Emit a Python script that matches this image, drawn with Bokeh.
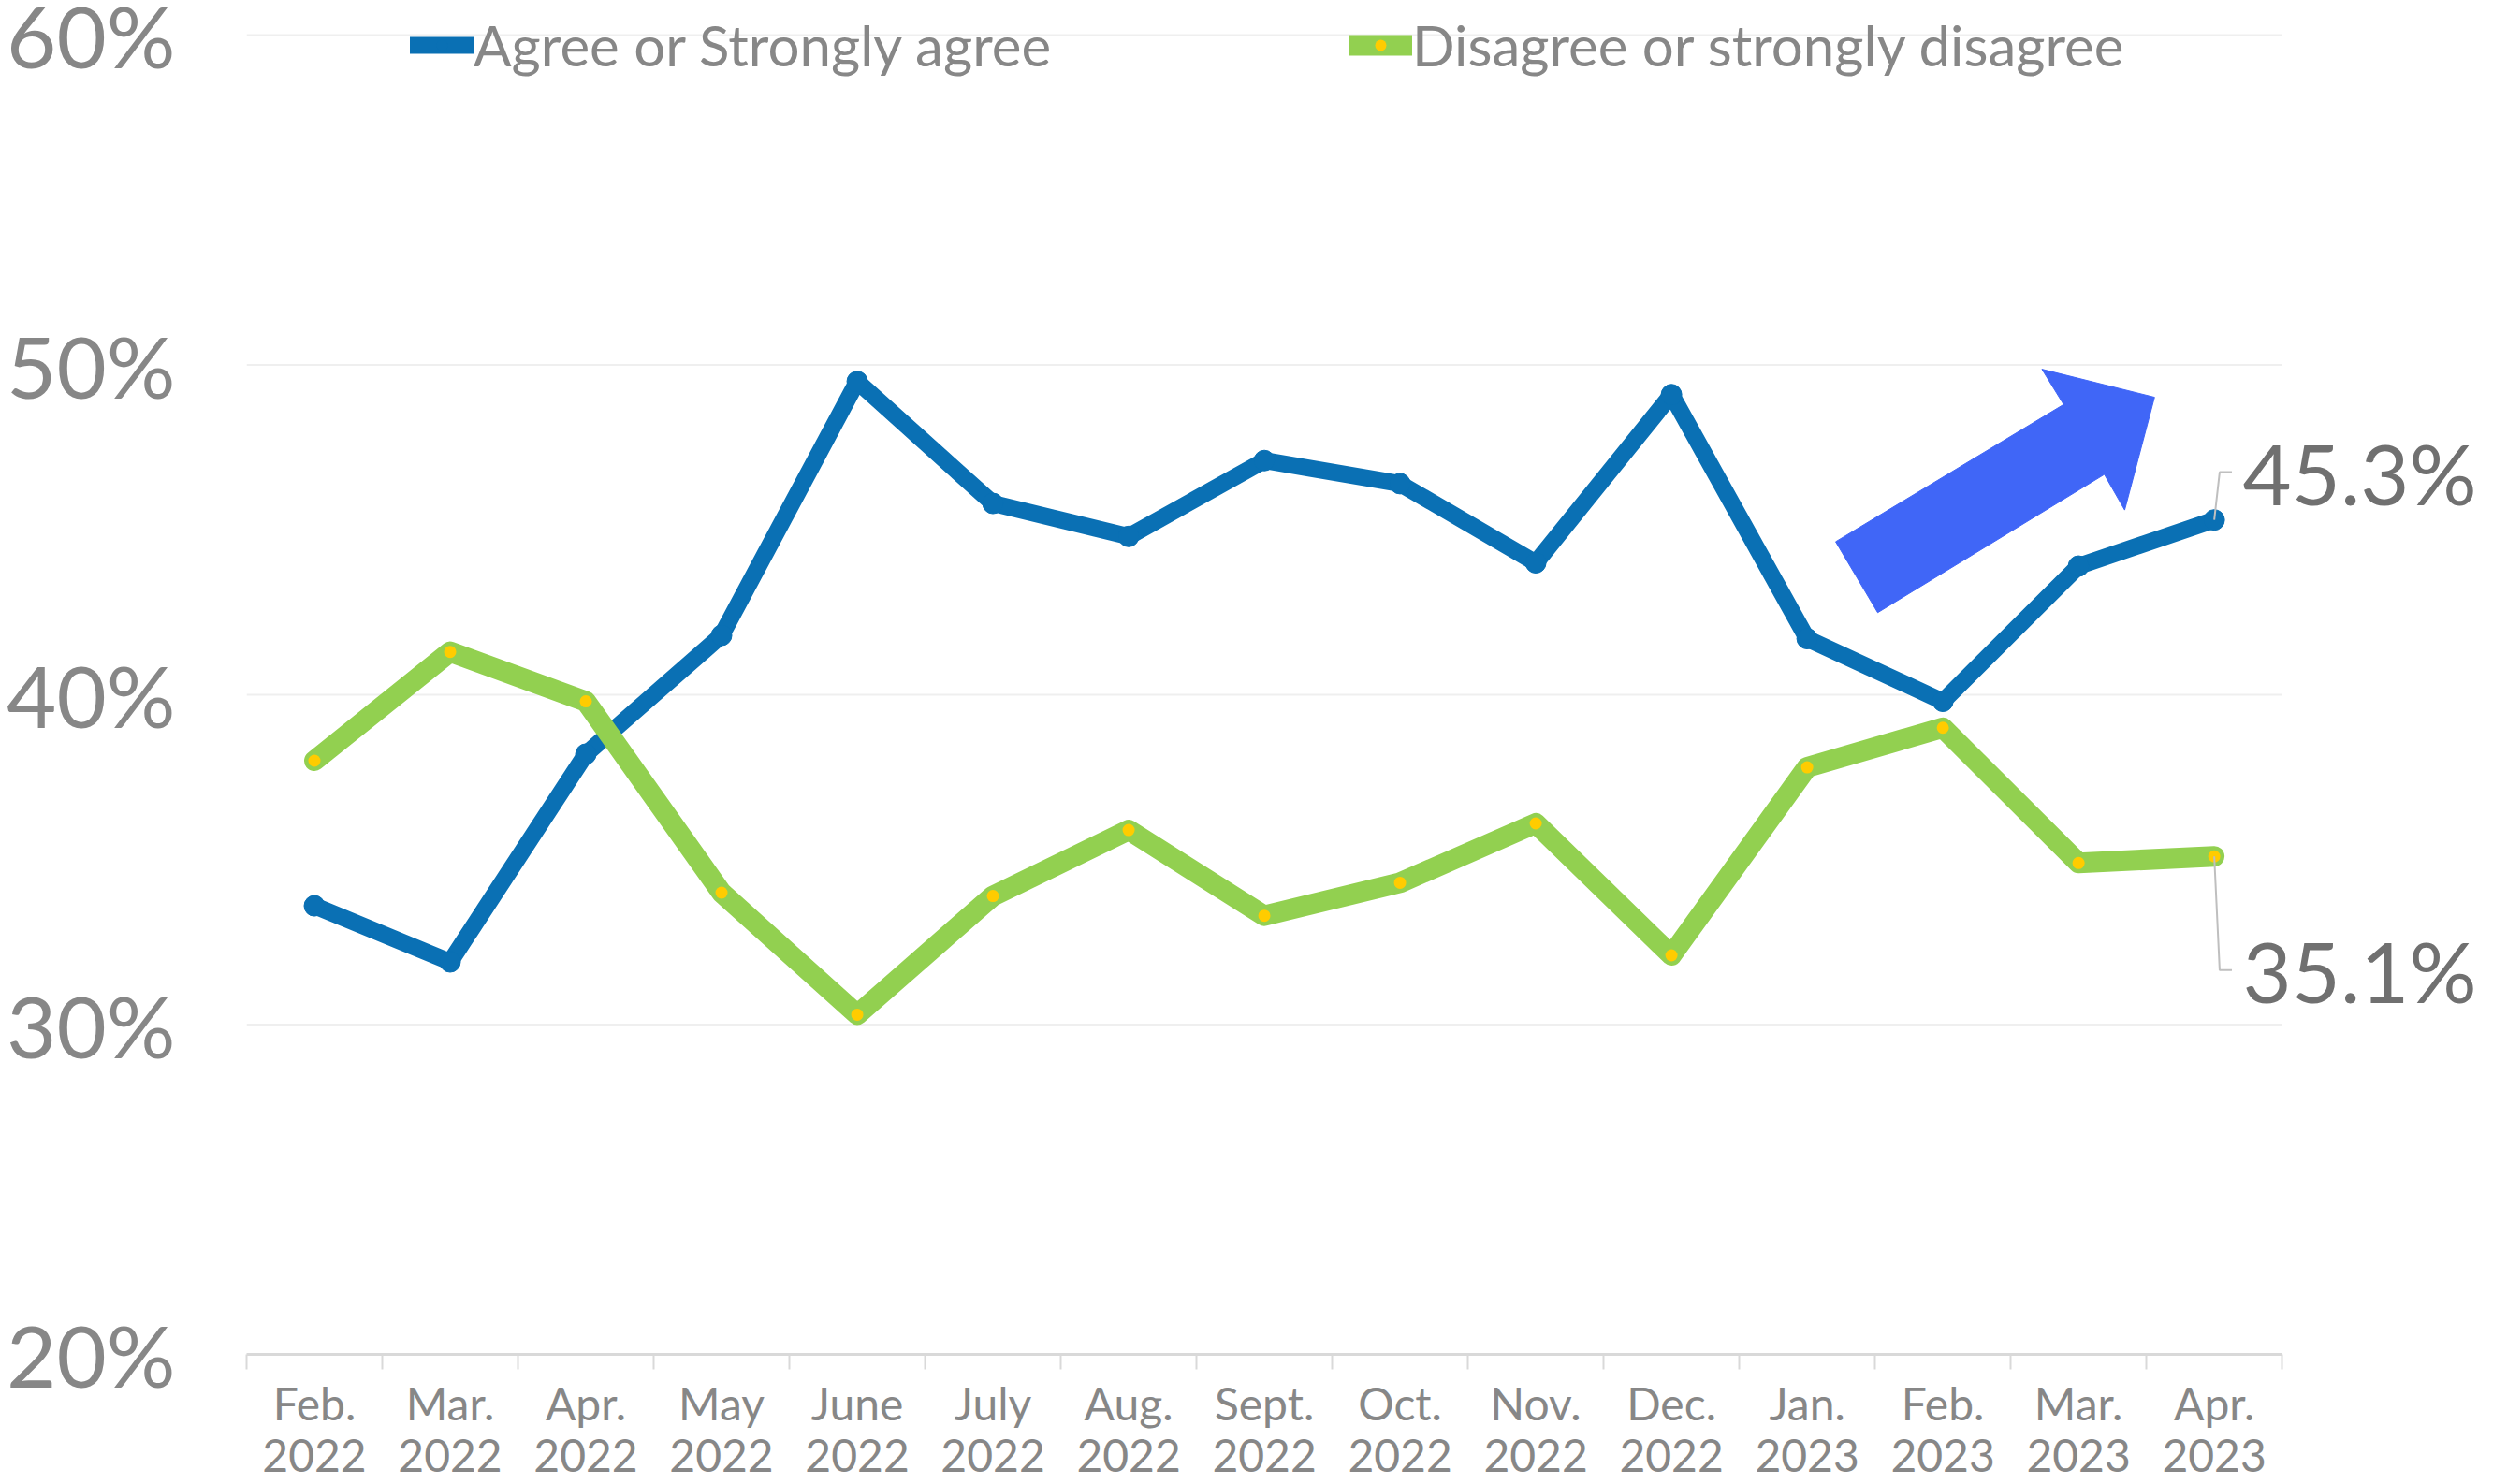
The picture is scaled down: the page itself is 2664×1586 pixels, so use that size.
from bokeh.plotting import figure
from bokeh.models import (FixedTicker, CustomJSTickFormatter, Legend, LegendItem, Label)
from bokeh.embed import file_html
from bokeh.resources import INLINE

MONTHS = ["Feb.\n2022", "Mar.\n2022", "Apr.\n2022", "May\n2022", "June\n2022",
          "July\n2022", "Aug.\n2022", "Sept.\n2022", "Oct.\n2022", "Nov.\n2022",
          "Dec.\n2022", "Jan.\n2023", "Feb.\n2023", "Mar.\n2023", "Apr.\n2023"]
AGREE = [33.6, 31.9, 38.2, 41.8, 49.5, 45.8, 44.8, 47.1, 46.4, 44.0, 49.1, 41.7, 39.8, 43.9, 45.3]
DISAGREE = [38.0, 41.3, 39.8, 34.0, 30.3, 33.9, 35.9, 33.3, 34.3, 36.1, 32.1, 37.8, 39.0, 34.9, 35.1]
SERIES_NAMES = ["Agree or Strongly agree", "Disagree or strongly disagree"]
Y_TICKS = [20, 30, 40, 50, 60]
END_LABELS = ["45.3%", "35.1%"]
# decorative trend arrow (data coordinates)
ARROW_X = [11.71, 13.39, 13.23, 14.06, 13.84, 13.69, 12.02]
ARROW_Y = [44.64, 48.80, 49.87, 49.02, 45.60, 46.68, 42.49]

BLUE = "#0A70B4"
GREEN = "#92D050"
YELLOW = "#FFCC00"
ARROW = "#4066F7"
GRAY = "#878787"
FONT = "Lato"

n = len(MONTHS)
xs = [i + 0.5 for i in range(n)]

# frame extends past the category span (right) and past 60% (top) so that
# the end labels and the legend are not clipped
X_END = n + 1.53
Y_TOP = Y_TICKS[-1] + 1.05

p = figure(width=2664, height=1586, x_range=(0, X_END), y_range=(Y_TICKS[0], Y_TOP),
           output_backend="svg", toolbar_location=None,
           min_border_left=263, min_border_right=4, min_border_top=0, min_border_bottom=134)
p.outline_line_color = None
p.background_fill_color = "white"

# x axis
p.xaxis.bounds = (0, n)
p.xaxis.ticker = FixedTicker(ticks=xs, minor_ticks=list(range(n + 1)))
p.xaxis.formatter = CustomJSTickFormatter(args=dict(labels=MONTHS),
                                          code="return labels[Math.floor(tick)];")
p.xaxis.major_tick_line_color = None
p.xaxis.major_tick_out = 0
p.xaxis.major_tick_in = 0
p.xaxis.minor_tick_out = 16
p.xaxis.minor_tick_in = 0
p.xaxis.minor_tick_line_color = "#D9D9D9"
p.xaxis.minor_tick_line_width = 2
p.xaxis.axis_line_color = "#D9D9D9"
p.xaxis.axis_line_width = 3
p.xaxis.major_label_text_font = FONT
p.xaxis.major_label_text_font_size = "48px"
p.xaxis.major_label_text_color = GRAY
p.xaxis.major_label_standoff = 7
p.xaxis.major_label_text_line_height = 0.98

# y axis (an extra unlabeled tick at the top keeps the 60% label at its gridline)
p.yaxis.ticker = FixedTicker(ticks=Y_TICKS + [Y_TOP - 0.02])
p.yaxis.formatter = CustomJSTickFormatter(
    args=dict(top=Y_TICKS[-1]),
    code="return tick > top ? '' : Math.round(tick) + '%';")
p.yaxis.axis_line_color = None
p.yaxis.major_tick_line_color = None
p.yaxis.major_tick_out = 0
p.yaxis.major_tick_in = 0
p.yaxis.minor_tick_line_color = None
p.yaxis.major_label_text_font = FONT
p.yaxis.major_label_text_font_size = "92px"
p.yaxis.major_label_text_color = GRAY
p.yaxis.major_label_standoff = 76

p.xgrid.grid_line_color = None
p.ygrid.grid_line_color = None
# horizontal gridlines over the category span only
p.segment(x0=[0] * (len(Y_TICKS) - 1), x1=[n] * (len(Y_TICKS) - 1),
          y0=Y_TICKS[1:], y1=Y_TICKS[1:], line_color="#EFEFEF", line_width=2)

# arrow
p.patch(ARROW_X, ARROW_Y, fill_color=ARROW, line_color=ARROW, line_width=1)

# series
l1 = p.line(xs, AGREE, line_width=18, color=BLUE, line_join="round", line_cap="round")
s1 = p.scatter(xs, AGREE, size=22, color=BLUE)
l2 = p.line(xs, DISAGREE, line_width=22, color=GREEN, line_join="round", line_cap="round")
s2 = p.scatter(xs, DISAGREE, size=13, color=YELLOW, line_color=None)

# leaders and end labels
for vals, ly, txt in [(AGREE, 46.75, END_LABELS[0]), (DISAGREE, 31.65, END_LABELS[1])]:
    x0 = xs[-1]
    p.line([x0, x0 + 0.04, x0 + 0.13], [vals[-1], ly, ly], line_color="#BFBFBF", line_width=2)
    p.add_layout(Label(x=x0 + 0.21, y=ly, text=txt, text_font=FONT, text_font_size="90px",
                       text_color="#707070", text_baseline="middle", text_align="left"))

# legends
for rs, name, vx in [([l1, s1], SERIES_NAMES[0], 175), ([l2, s2], SERIES_NAMES[1], 1178)]:
    lg = Legend(items=[LegendItem(label=name, renderers=rs)], location=(vx, 1363),
                orientation="horizontal", glyph_width=68, glyph_height=30,
                label_standoff=0, padding=0, margin=0, spacing=0,
                label_text_font=FONT, label_text_font_size="60px", label_text_color=GRAY,
                background_fill_alpha=0, border_line_alpha=0)
    p.add_layout(lg, "center")

open("out.html", "w").write(file_html(p, INLINE))
